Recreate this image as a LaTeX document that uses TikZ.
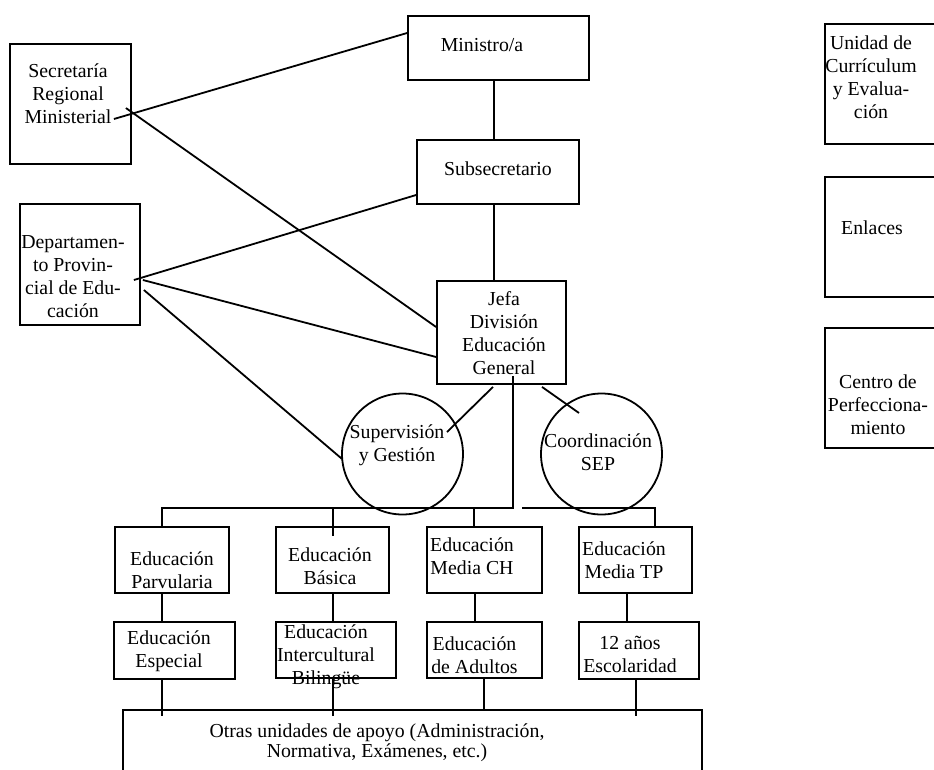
\documentclass[tikz,border=0pt]{standalone}
\usepackage{fontspec}
\setmainfont{Liberation Serif}
\usetikzlibrary{calc}
\begin{document}
\begin{tikzpicture}[x=1pt,y=-1pt,
  bx/.style n args={2}{draw, rectangle, line width=1.8pt, inner sep=0pt, minimum width=#1pt, minimum height=#2pt},
  cr/.style={draw, circle, line width=1.8pt, inner sep=0pt, minimum size=121pt},
  txt/.style={align=center, inner sep=0pt, font=\fontsize{19.8pt}{23pt}\selectfont},
  ln/.style={line width=1.8pt}]
\useasboundingbox (0,0) rectangle (934,769);
\fill[white] (0,0) rectangle (934,769);
\clip (0,0) rectangle (934,769);
% boxes
\node[bx={181}{64}] (min) at (498.5,48) {};
\node[bx={162}{64}] (sub) at (498,172) {};
\node[bx={121}{120}] (sec) at (70.5,104) {};
\node[bx={120}{121}] (dep) at (80,264.5) {};
\node[bx={129}{103}] (jefa) at (501.5,332.5) {};
\node[cr] (sup) at (402.5,454) {};
\node[cr] (coord) at (601.5,454) {};
\node[bx={114}{66}] (parv) at (172,560) {};
\node[bx={113}{66}] (bas) at (332.5,560) {};
\node[bx={115}{66}] (mch) at (484.5,560) {};
\node[bx={113}{66}] (mtp) at (635.5,560) {};
\node[bx={121}{57}] (esp) at (174.5,650.5) {};
\node[bx={120}{56}] (inter) at (336,650) {};
\node[bx={115}{56}] (adu) at (484.5,650) {};
\node[bx={120}{57}] (anos) at (639,650.5) {};
\node[bx={579}{90}] (otras) at (412.5,755) {};
\node[bx={135}{120}] (uni) at (892.5,84) {};
\node[bx={135}{120}] (enl) at (892.5,237) {};
\node[bx={135}{120}] (cen) at (892.5,388) {};
% texts
\node[txt] (tmin) at (482,45) {Ministro/a};
\node[txt] (tsub) at (498,169) {Subsecretario};
\node[txt] (tsec) at (68,94) {Secretaría\\Regional\\Ministerial};
\node[txt] (tdep) at (73,277) {Departamen-\\to Provin-\\cial de Edu-\\cación};
\node[txt] (tjefa) at (504,333) {Jefa\\División\\Educación\\General};
\node[txt] (tsup) at (397,445.5) {Supervisión\\y Gestión};
\node[txt] (tcoord) at (598,452) {Coordinación\\SEP};
\node[txt] (tparv) at (172,570) {Educación\\Parvularia};
\node[txt] (tbas) at (330,566) {Educación\\Básica};
\node[txt] (tmch) at (472,556.5) {Educación\\Media CH};
\node[txt] (tmtp) at (624,560) {Educación\\Media TP};
\node[txt] (tesp) at (169,651.5) {Educación\\Especial};
\node[txt] (tinter) at (326,657) {Educación\\Intercultural\\Bilingüe};
\node[txt] (tadu) at (474.5,655) {Educación\\de Adultos};
\node[txt] (tanos) at (630,654) {12 años\\Escolaridad};
\node[txt, font=\fontsize{19.8pt}{19.5pt}\selectfont] (totras) at (377,742.5) {Otras unidades de apoyo (Administración,\\Normativa, Exámenes, etc.)};
\node[txt] (tuni) at (871,77.5) {Unidad de\\Currículum\\y Evalua-\\ción};
\node[txt] (tenl) at (872,228) {Enlaces};
\node[txt] (tcen) at (878,405) {Centro de\\Perfecciona-\\miento};
% connectors
\draw[ln] ($(sec.east)+(-18,15)$) -- ($(min.west)+(0,-15)$);
\draw[ln] ($(sec.east)+(-6,4)$) -- ($(jefa.west)+(0,-5.5)$);
\draw[ln] ($(dep.east)+(-7,15.5)$) -- ($(sub.west)+(0,23)$);
\draw[ln] ($(dep.east)+(2,15.5)$) -- ($(jefa.west)+(0,24.5)$);
\draw[ln] ($(dep.east)+(3,25.5)$) -- ($(sup.west)+(1,5)$);
\draw[ln] ($(min.south)+(-4.5,0)$) -- ($(sub.north)+(-4,0)$);
\draw[ln] ($(sub.south)+(-4,0)$) -- ($(jefa.north)+(-7.5,0)$);
\draw[ln] ($(jefa.south)+(-8.5,2)$) -- ($(sup.center)+(44.5,-22)$);
\draw[ln] ($(jefa.south)+(40.5,2)$) -- ($(coord.center)+(-22.5,-41)$);
\coordinate (busL) at (513,508);
\coordinate (busR) at (522,508);
\draw[ln] ($(jefa.south)+(11.5,-9)$) -- (busL) -| ($(parv.north)+(-10,0)$);
\draw[ln] ($(bas.north)+(0.5,-19)$) -- ($(bas.north)+(0.5,10)$);
\draw[ln] ($(mch.north)+(-10.5,-19)$) -- ($(mch.north)+(-10.5,0)$);
\draw[ln] (busR) -| ($(mtp.north)+(19.5,0)$);
\draw[ln] ($(parv.south)+(-10,0)$) -- ($(esp.north)+(-12.5,0)$);
\draw[ln] ($(bas.south)+(0.5,0)$) -- ($(inter.north)+(-3,0)$);
\draw[ln] ($(mch.south)+(-9.5,0)$) -- ($(adu.north)+(-9.5,0)$);
\draw[ln] ($(mtp.south)+(-8.5,0)$) -- ($(anos.north)+(-12,0)$);
\draw[ln] ($(esp.south)+(-12.5,0)$) -- ($(otras.north)+(-250.5,7)$);
\draw[ln] ($(inter.south)+(-3,0)$) -- ($(otras.north)+(-79.5,7)$);
\draw[ln] ($(adu.south)+(-0.5,0)$) -- ($(otras.north)+(71.5,0)$);
\draw[ln] ($(anos.south)+(-3,0)$) -- ($(otras.north)+(223.5,7)$);
\end{tikzpicture}
\end{document}
